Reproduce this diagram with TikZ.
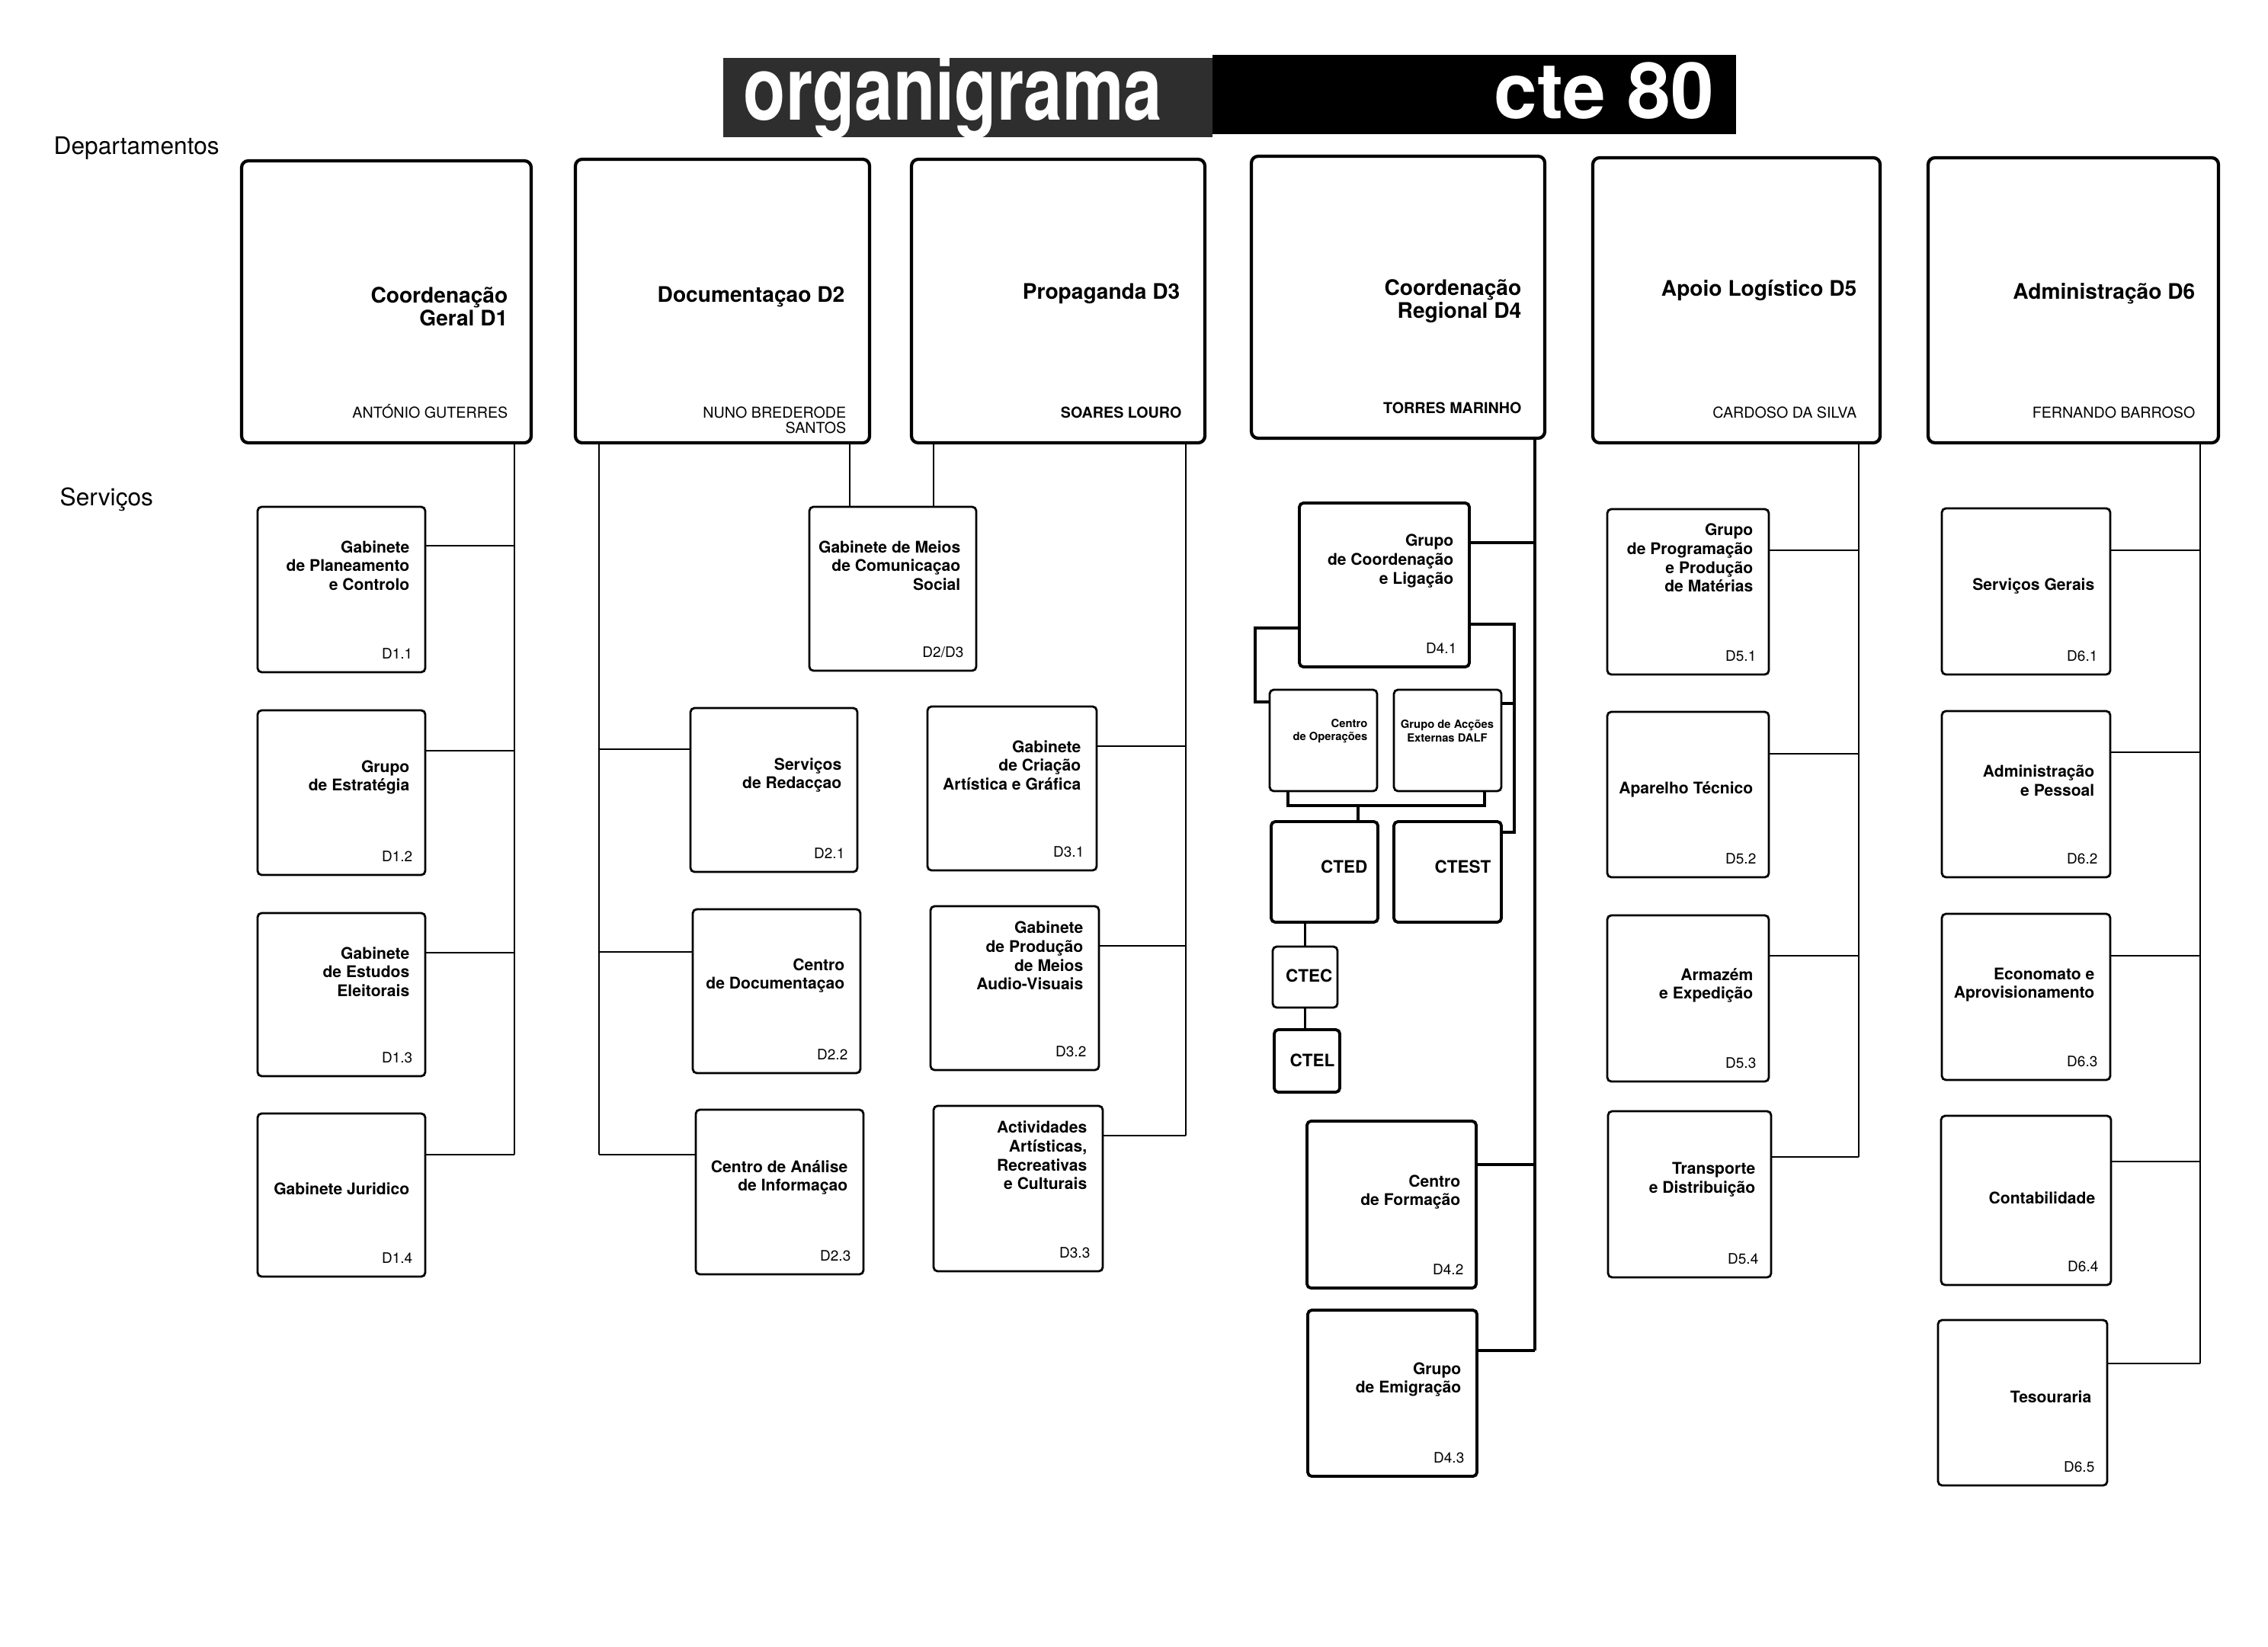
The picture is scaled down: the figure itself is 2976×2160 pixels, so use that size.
\documentclass[tikz,border=0pt]{standalone}
\usepackage{fontspec}
\setmainfont{TeX Gyre Heros}
\usetikzlibrary{fit}
\newcommand\mkbox[6]{%
  \coordinate (#2-a) at (#3,#4); \coordinate (#2-b) at (#5,#6);
  \node[#1, fit=(#2-a)(#2-b)] (#2) {};}
\newcommand\svc[9]{%
  \mkbox{#1}{#2}{#3}{#4}{#5}{#6}
  \node[ttl, anchor=east] (#2-t) at (#5-20,#7) {#8};
  \node[cod, anchor=base east] (#2-c) at (#5-16,#6-18) {#9};}
\begin{document}
\begin{tikzpicture}[x=0.01cm,y=-0.01cm,
  dept/.style={draw, line width=1.2pt, rounded corners=2.5pt, inner sep=0pt},
  svc/.style={draw, line width=0.8pt, rounded corners=1.5pt, inner sep=0pt},
  svcb/.style={draw, line width=1.1pt, rounded corners=1.5pt, inner sep=0pt},
  conn/.style={line width=0.6pt},
  connb/.style={line width=1pt},
  ttl/.style={font=\fontsize{6}{7}\selectfont\bfseries, align=right, inner sep=0pt},
  cod/.style={font=\fontsize{5.4}{6}\selectfont, inner sep=0pt},
  tiny/.style={font=\fontsize{4.2}{5}\selectfont\bfseries, inner sep=0pt},
  ctt/.style={font=\fontsize{6.4}{7}\selectfont\bfseries, inner sep=0pt},
  dttl/.style={font=\fontsize{8}{8.6}\selectfont\bfseries, align=right, inner sep=0pt},
  dname/.style={font=\fontsize{5.6}{6.4}\selectfont, inner sep=0pt},
  lbl/.style={font=\fontsize{9}{10}\selectfont, inner sep=0pt}]
\fill[white] (0,0) rectangle (2976,2160);
\useasboundingbox (0,0) rectangle (2976,2160);

% title banner
\fill[black!82] (949,76) rectangle (1591,180);
\fill[black] (1591,72) rectangle (2278,176);
\node[anchor=base west, inner sep=0pt, text=white, font=\fontsize{33}{36}\selectfont\bfseries] (tt1) at (975,157) {\scalebox{0.78}[1]{organigrama}};
\node[anchor=base east, inner sep=0pt, text=white, font=\fontsize{29}{32}\selectfont\bfseries] (tt2) at (2250,155) {cte 80};

\node[lbl, anchor=base west] (lab1) at (70,202) {Departamentos};
\node[lbl, anchor=base west] (lab2) at (78,663) {Serviços};

% departments
\mkbox{dept}{d1}{317}{211}{697}{581}
\node[dttl, anchor=east] (d1-t) at (667,402) {Coordenação\\Geral D1};
\node[dname, anchor=base east] (d1-n) at (667,548) {ANTÓNIO GUTERRES};
\mkbox{dept}{d2}{755}{209}{1141}{581}
\node[dttl, anchor=east] (d2-t) at (1109,389) {Documentaçao D2};
\node[dname, anchor=base east] (d2-n) at (1111,548) {NUNO BREDERODE};
\node[dname, anchor=base east] (d2-m) at (1111,568) {SANTOS};
\mkbox{dept}{d3}{1196}{209}{1581}{581}
\node[dttl, anchor=east] (d3-t) at (1549,385) {Propaganda D3};
\node[dname, font=\fontsize{5.6}{6.4}\selectfont\bfseries, anchor=base east] (d3-n) at (1551,548) {SOARES LOURO};
\mkbox{dept}{d4}{1642}{205}{2027}{575}
\node[dttl, anchor=east] (d4-t) at (1997,395) {Coordenação\\Regional D4};
\node[dname, font=\fontsize{5.6}{6.4}\selectfont\bfseries, anchor=base east] (d4-n) at (1997,542) {TORRES MARINHO};
\mkbox{dept}{d5}{2090}{207}{2467}{581}
\node[dttl, anchor=east] (d5-t) at (2437,381) {Apoio Logístico D5};
\node[dname, anchor=base east] (d5-n) at (2437,548) {CARDOSO DA SILVA};
\mkbox{dept}{d6}{2530}{207}{2911}{581}
\node[dttl, anchor=east] (d6-t) at (2881,385) {Administração D6};
\node[dname, anchor=base east] (d6-n) at (2881,548) {FERNANDO BARROSO};

% D1 services
\svc{svc}{d11}{338}{665}{558}{882}{742}{Gabinete\\de Planeamento\\e Controlo}{D1.1}
\svc{svc}{d12}{338}{932}{558}{1148}{1020}{Grupo\\de Estratégia}{D1.2}
\svc{svc}{d13}{338}{1198}{558}{1412}{1275}{Gabinete\\de Estudos\\Eleitorais}{D1.3}
\svc{svc}{d14}{338}{1461}{558}{1675}{1560}{Gabinete Juridico}{D1.4}
% D2 / D3 services
\svc{svc}{gm}{1062}{665}{1281}{880}{742}{Gabinete de Meios\\de Comunicaçao\\Social}{D2/D3}
\svc{svc}{d21}{906}{929}{1125}{1144}{1017}{Serviços\\de Redacçao}{D2.1}
\svc{svc}{d22}{909}{1193}{1129}{1408}{1280}{Centro\\de Documentaçao}{D2.2}
\svc{svc}{d23}{913}{1456}{1133}{1672}{1545}{Centro de Análise\\de Informaçao}{D2.3}
\svc{svc}{d31}{1217}{927}{1439}{1142}{1004}{Gabinete\\de Criação\\Artística e Gráfica}{D3.1}
\svc{svc}{d32}{1221}{1189}{1442}{1404}{1254}{Gabinete\\de Produção\\de Meios\\Audio-Visuais}{D3.2}
\svc{svc}{d33}{1225}{1451}{1447}{1668}{1516}{Actividades\\Artísticas,\\Recreativas\\e Culturais}{D3.3}
% D4 services
\svc{svcb}{d41}{1705}{660}{1928}{875}{736}{Grupo\\de Coordenação\\e Ligação}{D4.1}
\mkbox{svc}{co}{1666}{905}{1807}{1038}
\node[tiny, align=right, anchor=east] (co-t) at (1795,959) {Centro\\de Operações};
\mkbox{svc}{gae}{1829}{905}{1970}{1038}
\node[tiny, align=center] (gae-t) at (1899,959) {Grupo de Acções\\Externas DALF};
\mkbox{svcb}{cted}{1668}{1078}{1808}{1210}
\node[ctt, anchor=east] (cted-t) at (1795,1137) {CTED};
\mkbox{svcb}{ctest}{1829}{1078}{1970}{1210}
\node[ctt, anchor=east] (ctest-t) at (1957,1137) {CTEST};
\mkbox{svc}{ctec}{1670}{1242}{1755}{1322}
\node[ctt, anchor=east] (ctec-t) at (1749,1280) {CTEC};
\mkbox{svcb}{ctel}{1672}{1351}{1758}{1433}
\node[ctt, anchor=east] (ctel-t) at (1752,1391) {CTEL};
\svc{svcb}{d42}{1715}{1471}{1937}{1690}{1564}{Centro\\de Formação}{D4.2}
\svc{svcb}{d43}{1716}{1719}{1938}{1937}{1810}{Grupo\\de Emigração}{D4.3}
% D5 services
\svc{svc}{d51}{2109}{668}{2321}{885}{732}{Grupo\\de Programação\\e Produção\\de Matérias}{D5.1}
\svc{svc}{d52}{2109}{934}{2321}{1151}{1036}{Aparelho Técnico}{D5.2}
\svc{svc}{d53}{2109}{1201}{2321}{1419}{1293}{Armazém\\e Expedição}{D5.3}
\svc{svc}{d54}{2110}{1458}{2324}{1676}{1548}{Transporte\\e Distribuição}{D5.4}
% D6 services
\svc{svc}{d61}{2548}{667}{2769}{885}{769}{Serviços Gerais}{D6.1}
\svc{svc}{d62}{2548}{933}{2769}{1151}{1024}{Administração\\e Pessoal}{D6.2}
\svc{svc}{d63}{2548}{1199}{2769}{1417}{1292}{Economato e\\Aprovisionamento}{D6.3}
\svc{svc}{d64}{2547}{1464}{2770}{1686}{1572}{Contabilidade}{D6.4}
\svc{svc}{d65}{2543}{1732}{2765}{1949}{1833}{Tesouraria}{D6.5}

% ---- connectors ----
% D1
\coordinate (b1) at (675,1515);
\draw[conn] (d1.south -| b1) -- (b1);
\draw[conn] (d11.east |- 0,716) -- (b1 |- 0,716);
\draw[conn] (d12.east |- 0,985) -- (b1 |- 0,985);
\draw[conn] (d13.east |- 0,1250) -- (b1 |- 0,1250);
\draw[conn] (d14.east |- 0,1515) -- (b1);
% D2
\coordinate (b2) at (786,1515);
\draw[conn] (d2.south -| b2) -- (b2);
\draw[conn] (d21.west |- 0,983) -- (b2 |- 0,983);
\draw[conn] (d22.west |- 0,1249) -- (b2 |- 0,1249);
\draw[conn] (d23.west |- 0,1515) -- (b2);
% D2/D3 shared office
\coordinate (g1) at (1115,0);
\coordinate (g2) at (1225,0);
\draw[conn] (d2.south -| g1) -- (gm.north -| g1);
\draw[conn] (d3.south -| g2) -- (gm.north -| g2);
% D3
\coordinate (b3) at (1556,1490);
\draw[conn] (d3.south -| b3) -- (b3);
\draw[conn] (d31.east |- 0,979) -- (b3 |- 0,979);
\draw[conn] (d32.east |- 0,1241) -- (b3 |- 0,1241);
\draw[conn] (d33.east |- 0,1490) -- (b3);
% D4
\coordinate (b4) at (2014,1772);
\draw[connb] (d4.south -| b4) -- (b4);
\draw[connb] (d41.east |- 0,712) -- (b4 |- 0,712);
\draw[connb] (d42.east |- 0,1528) -- (b4 |- 0,1528);
\draw[connb] (d43.east |- 0,1772) -- (b4);
\coordinate (l1) at (1647,824);
\coordinate (l2) at (1647,921);
\draw[connb] (d41.west |- l1) -- (l1) -- (l2) -- (co.west |- l2);
\coordinate (r1) at (1987,819);
\coordinate (r2) at (1987,1092);
\draw[connb] (d41.east |- r1) -- (r1) -- (r2) -- (ctest.east |- r2);
\draw[connb] (gae.east |- 0,923) -- (r1 |- 0,923);
\coordinate (k1) at (1690,1057);
\coordinate (k2) at (1948,1057);
\coordinate (k3) at (1782,1057);
\draw[connb] (co.south -| k1) -- (k1) -- (k2) -- (gae.south -| k2);
\draw[connb] (k3) -- (cted.north -| k3);
\draw[connb] (cted.south -| ctec.north) -- (ctec.north);
\draw[connb] (ctec.south) -- (ctel.north -| ctec.south);
% D5
\coordinate (b5) at (2439,1518);
\draw[conn] (d5.south -| b5) -- (b5);
\draw[conn] (d51.east |- 0,722) -- (b5 |- 0,722);
\draw[conn] (d52.east |- 0,989) -- (b5 |- 0,989);
\draw[conn] (d53.east |- 0,1254) -- (b5 |- 0,1254);
\draw[conn] (d54.east |- 0,1518) -- (b5);
% D6
\coordinate (b6) at (2887,1789);
\draw[conn] (d6.south -| b6) -- (b6);
\draw[conn] (d61.east |- 0,722) -- (b6 |- 0,722);
\draw[conn] (d62.east |- 0,987) -- (b6 |- 0,987);
\draw[conn] (d63.east |- 0,1254) -- (b6 |- 0,1254);
\draw[conn] (d64.east |- 0,1524) -- (b6 |- 0,1524);
\draw[conn] (d65.east |- 0,1789) -- (b6);
\end{tikzpicture}
\end{document}
